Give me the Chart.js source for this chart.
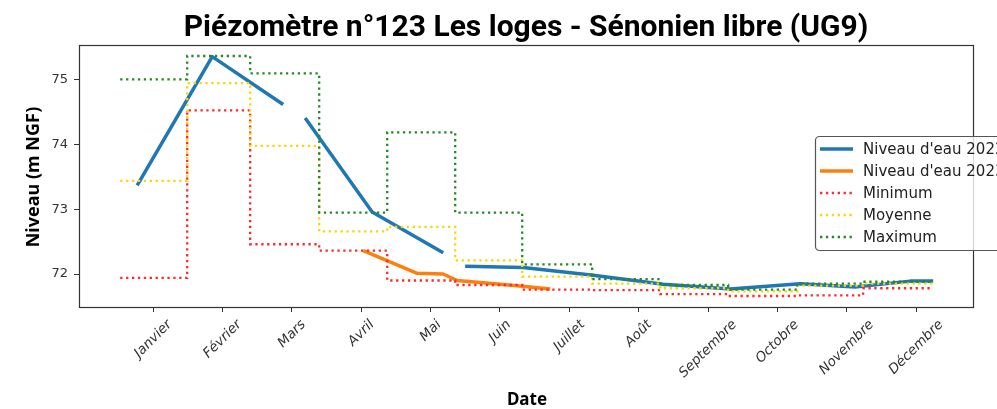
<!DOCTYPE html>
<html>
<head>
<meta charset="utf-8">
<script src="https://cdn.jsdelivr.net/npm/chart.js@4.4.0/dist/chart.umd.min.js"></script>
<style>
  html, body { margin: 0; padding: 0; background: #fff; }
  canvas { display: block; }
</style>
</head>
<body>
<canvas id="c" width="997" height="409"></canvas>
<script>
// ---- Data ----
const title = "Piézomètre n°123 Les loges - Sénonien libre (UG9)";
const months = ["Janvier", "Février", "Mars", "Avril", "Mai", "Juin", "Juillet", "Août", "Septembre", "Octobre", "Novembre", "Décembre"];
const yTicks = [72, 73, 74, 75];

// step boundaries (month units, 1 = Janvier tick)
const stepX = [0.524, 1.490, 2.398, 3.393, 4.374, 5.354, 6.320, 7.329, 8.310, 9.290, 10.285, 11.236, 12.246];
const minVals  = [71.94, 74.53, 72.46, 72.36, 71.90, 71.83, 71.76, 71.75, 71.69, 71.66, 71.67, 71.78];
const meanVals = [73.44, 74.95, 73.98, 72.66, 72.73, 72.21, 71.96, 71.85, 71.78, 71.73, 71.82, 71.85];
const maxVals  = [75.01, 75.37, 75.10, 72.95, 74.19, 72.95, 72.15, 71.92, 71.83, 71.76, 71.85, 71.88];

const blueX = [0.769, 1.851, 2.874, 3.03, 3.191, 4.157, 5.181, 5.34, 5.498, 6.334, 7.344, 8.353, 9.319, 10.328, 11.121, 11.914, 12.246];
const blueY = [73.37, 75.36, 74.62, null, 74.41, 72.96, 72.33, null, 72.12, 72.10, 71.98, 71.84, 71.77, 71.85, 71.80, 71.89, 71.89];

const orangeX = [4.028, 4.345, 4.806, 5.181, 5.383, 6.003, 6.435, 6.724];
const orangeY = [72.36, 72.22, 72.01, 72.00, 71.90, 71.84, 71.80, 71.77];

const seriesNames = ["Niveau d'eau 2022", "Niveau d'eau 2023", "Minimum", "Moyenne", "Maximum"];
const colors = ["#1f77b4", "#ff7f0e", "#ff2a2a", "#ffd400", "#228b22"];

// ---- Build ----
const pts = (xs, ys) => xs.map((x, i) => ({ x: x, y: ys[i] }));
const stepPts = (vals) => stepX.map((x, i) => ({ x: x, y: vals[Math.min(i, vals.length - 1)] }));

const solid = (label, data, color, order) => ({
  label, data, borderColor: color, borderWidth: 3.5, pointRadius: 0,
  tension: 0, spanGaps: false, fill: false, order, borderCapStyle: 'butt', borderJoinStyle: 'round'
});
const dotted = (label, data, color, order) => ({
  label, data, borderColor: color, borderWidth: 2.3, pointRadius: 0,
  tension: 0, fill: false, stepped: 'before', borderDash: [2.3, 3.6], borderCapStyle: 'butt', order
});

const frameAndText = {
  id: 'frameAndText',
  afterDraw(chart) {
    const ctx = chart.ctx;
    const a = chart.chartArea;
    const xs = chart.scales.x;
    ctx.save();
    // frame
    ctx.strokeStyle = '#333';
    ctx.lineWidth = 1.2;
    ctx.strokeRect(a.left + 0.5, a.top + 0.5, a.right - a.left, a.bottom - a.top);

    // x tick labels (rotated 45°, centered on tick)
    ctx.fillStyle = '#333';
    ctx.font = 'italic 13.6px "DejaVu Sans"';
    ctx.textAlign = 'center';
    ctx.textBaseline = 'middle';
    const h = 15.5;
    months.forEach((m, i) => {
      const px = xs.getPixelForValue(i + 1);
      const w = ctx.measureText(m).width;
      const side = (w + h) * Math.SQRT1_2;
      const cy = a.bottom + 10 + side / 2;
      ctx.save();
      ctx.translate(px, cy);
      ctx.rotate(-Math.PI / 4);
      ctx.fillText(m, 0, 0);
      ctx.restore();
    });

    // title
    ctx.fillStyle = '#000';
    ctx.font = 'bold 30px Roboto';
    ctx.textAlign = 'center';
    ctx.textBaseline = 'alphabetic';
    ctx.fillText(title, (a.left + a.right) / 2, 36);

    // x axis title
    ctx.font = 'bold 17px "Noto Sans"';
    ctx.textBaseline = 'middle';
    ctx.fillText('Date', (a.left + a.right) / 2 + 1, 400);

    // y axis title
    ctx.font = 'bold 18px "Noto Sans"';
    ctx.save();
    ctx.translate(34, (a.top + a.bottom) / 2 + 1);
    ctx.rotate(-Math.PI / 2);
    ctx.fillText('Niveau (m NGF)', 0, 0);
    ctx.restore();

    // legend
    const lx = 815, ly = 136, lw = 220, lh = 114;
    ctx.beginPath();
    if (ctx.roundRect) ctx.roundRect(lx + 0.5, ly + 0.5, lw, lh, 4); else ctx.rect(lx + 0.5, ly + 0.5, lw, lh);
    ctx.fillStyle = 'rgba(255,255,255,0.8)';
    ctx.fill();
    ctx.strokeStyle = '#555';
    ctx.lineWidth = 1.2;
    ctx.stroke();
    const rows = [149, 171, 193, 215, 237];
    ctx.font = '15px "DejaVu Sans"';
    ctx.textAlign = 'left';
    ctx.textBaseline = 'middle';
    seriesNames.forEach((name, i) => {
      const y = rows[i];
      ctx.beginPath();
      ctx.strokeStyle = colors[i];
      if (i < 2) { ctx.lineWidth = 3.5; ctx.setLineDash([]); }
      else { ctx.lineWidth = 2.3; ctx.setLineDash([2.3, 3.6]); }
      ctx.moveTo(820, y);
      ctx.lineTo(853, y);
      ctx.stroke();
      ctx.setLineDash([]);
      ctx.fillStyle = '#222';
      ctx.fillText(name, 863, y + 1);
    });
    ctx.restore();
  }
};

new Chart(document.getElementById('c'), {
  type: 'line',
  data: {
    datasets: [
      solid(seriesNames[0], pts(blueX, blueY), colors[0], 5),
      solid(seriesNames[1], pts(orangeX, orangeY), colors[1], 4),
      dotted(seriesNames[2], stepPts(minVals), colors[2], 3),
      dotted(seriesNames[3], stepPts(meanVals), colors[3], 2),
      dotted(seriesNames[4], stepPts(maxVals), colors[4], 1)
    ]
  },
  options: {
    responsive: false,
    animation: false,
    devicePixelRatio: 1,
    layout: { padding: { left: 0, right: 24, top: 45, bottom: 0 } },
    plugins: { legend: { display: false }, title: { display: false }, tooltip: { enabled: false } },
    scales: {
      x: {
        type: 'linear',
        min: -0.07, max: 12.82,
        afterBuildTicks: (s) => { s.ticks = months.map((_, i) => ({ value: i + 1 })); },
        afterFit: (s) => { s.height = 102; },
        ticks: { display: false },
        grid: { drawOnChartArea: false, drawTicks: true, tickLength: 5, color: '#333', tickWidth: 1 },
        border: { display: false }
      },
      y: {
        type: 'linear',
        min: 71.49, max: 75.54,
        afterBuildTicks: (s) => { s.ticks = yTicks.map(v => ({ value: v })); },
        afterFit: (s) => { s.width = 79; },
        ticks: { color: '#333', font: { family: 'DejaVu Sans', size: 13 }, padding: 6, callback: (v) => String(v) },
        grid: { drawOnChartArea: false, drawTicks: true, tickLength: 5, color: '#333', tickWidth: 1 },
        border: { display: false }
      }
    }
  },
  plugins: [frameAndText]
});
</script>
</body>
</html>
